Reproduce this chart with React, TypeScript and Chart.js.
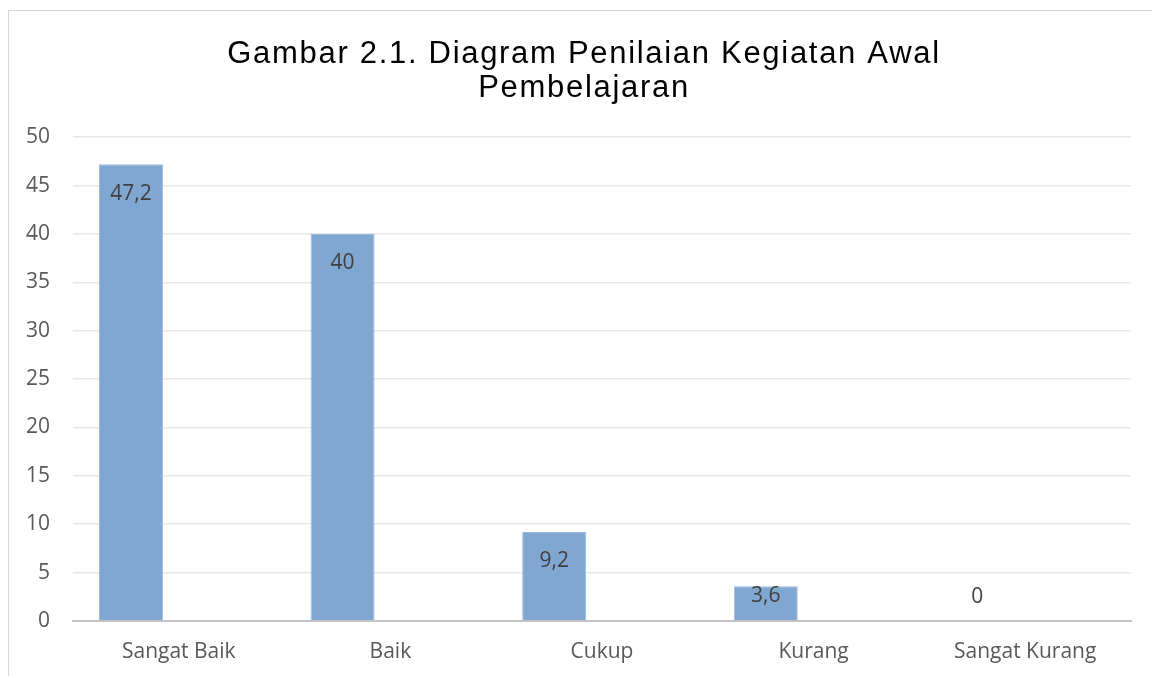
import React, { useEffect, useRef } from "react";
import { Chart, registerables } from "chart.js";

Chart.register(...registerables);

const categories = ["Sangat Baik", "Baik", "Cukup", "Kurang", "Sangat Kurang"];
const values = [47.2, 40, 9.2, 3.6, 0];
const emptySeries = [null, null, null, null, null];
const titleLines = ["Gambar 2.1. Diagram Penilaian Kegiatan Awal", "Pembelajaran"];
const yMin = 0;
const yMax = 50;
const yStep = 5;

const formatValue = (v: number) => String(v).replace(".", ",");

const titleSpacingPlugin = {
  id: "titleSpacing",
  beforeDraw(chart: any) {
    const tb = chart.titleBlock;
    if (tb && !tb.__patched) {
      const orig = tb.draw.bind(tb);
      tb.draw = (...args: any[]) => {
        const ctx = chart.ctx;
        ctx.save();
        (ctx as any).letterSpacing = "1.7px";
        orig(...args);
        ctx.restore();
      };
      tb.__patched = true;
    }
  },
};

const valueLabelPlugin = {
  id: "valueLabels",
  afterDatasetsDraw(chart: any) {
    const ctx = chart.ctx;
    const meta = chart.getDatasetMeta(0);
    ctx.save();
    ctx.font = "21px 'Open Sans'";
    ctx.fillStyle = "#404040";
    ctx.textAlign = "center";
    ctx.textBaseline = "middle";
    meta.data.forEach((el: any, i: number) => {
      const v = chart.data.datasets[0].data[i];
      const y = Math.min(el.y + 29.5, el.base - 24);
      ctx.fillText(formatValue(v), el.x, y);
    });
    ctx.restore();
  },
};

export default function App() {
  const ref = useRef<HTMLCanvasElement>(null);
  useEffect(() => {
    if (!ref.current) return;
    const chart = new Chart(ref.current, {
      type: "bar",
      data: {
        labels: categories,
        datasets: [
          {
            label: "Nilai",
            data: values,
            backgroundColor: "#80a6d2",
            borderColor: "#9cbbe0",
            borderWidth: 1,
            categoryPercentage: 0.904,
            barPercentage: 0.669,
          },
          {
            label: "Kosong",
            data: emptySeries as any,
            backgroundColor: "#80a6d2",
            categoryPercentage: 0.904,
            barPercentage: 0.669,
          },
        ],
      },
      options: {
        responsive: false,
        animation: false,
        layout: { padding: { left: 0, right: 0, top: 0, bottom: 14 } },
        plugins: {
          legend: { display: false },
          tooltip: { enabled: false },
          title: {
            display: true,
            text: titleLines,
            color: "#000000",
            font: { family: "'Liberation Sans', Arial", size: 31, weight: "normal", lineHeight: 1.1 },
            padding: { top: 26, bottom: 32 },
          },
        },
        scales: {
          x: {
            grid: { display: false, drawTicks: false },
            border: { display: true, color: "#c4c4c4", width: 2 },
            ticks: {
              color: "#595959",
              font: { family: "'Open Sans'", size: 21, lineHeight: 1.2 },
              padding: 18,
              maxRotation: 0,
              autoSkip: false,
            },
            afterFit(scale: any) {
              scale.height = 43;
            },
          },
          y: {
            min: yMin,
            max: yMax,
            grid: { color: "#e8e8e8", lineWidth: 1.5, drawTicks: false },
            border: { display: false },
            ticks: {
              stepSize: yStep,
              color: "#595959",
              font: { family: "'Open Sans'", size: 21 },
              padding: 23,
            },
            afterFit(scale: any) {
              scale.width = 64;
            },
          },
          yRight: {
            position: "right",
            min: yMin,
            max: yMax,
            grid: { display: false, drawTicks: false },
            border: { display: false },
            ticks: { display: false },
            afterFit(scale: any) {
              scale.width = 28;
            },
          },
        },
      },
      plugins: [titleSpacingPlugin, valueLabelPlugin],
    });
    return () => chart.destroy();
  }, []);
  return (
    <div
      style={{
        position: "relative",
        top: 2,
        width: 1150,
        height: 667,
        borderTop: "1px solid #d6d6d6",
        borderLeft: "1px solid #d6d6d6",
        borderRight: "1px solid #d6d6d6",
      }}
    >
      <canvas ref={ref} width={1150} height={667} style={{ display: "block" }} />
    </div>
  );
}
